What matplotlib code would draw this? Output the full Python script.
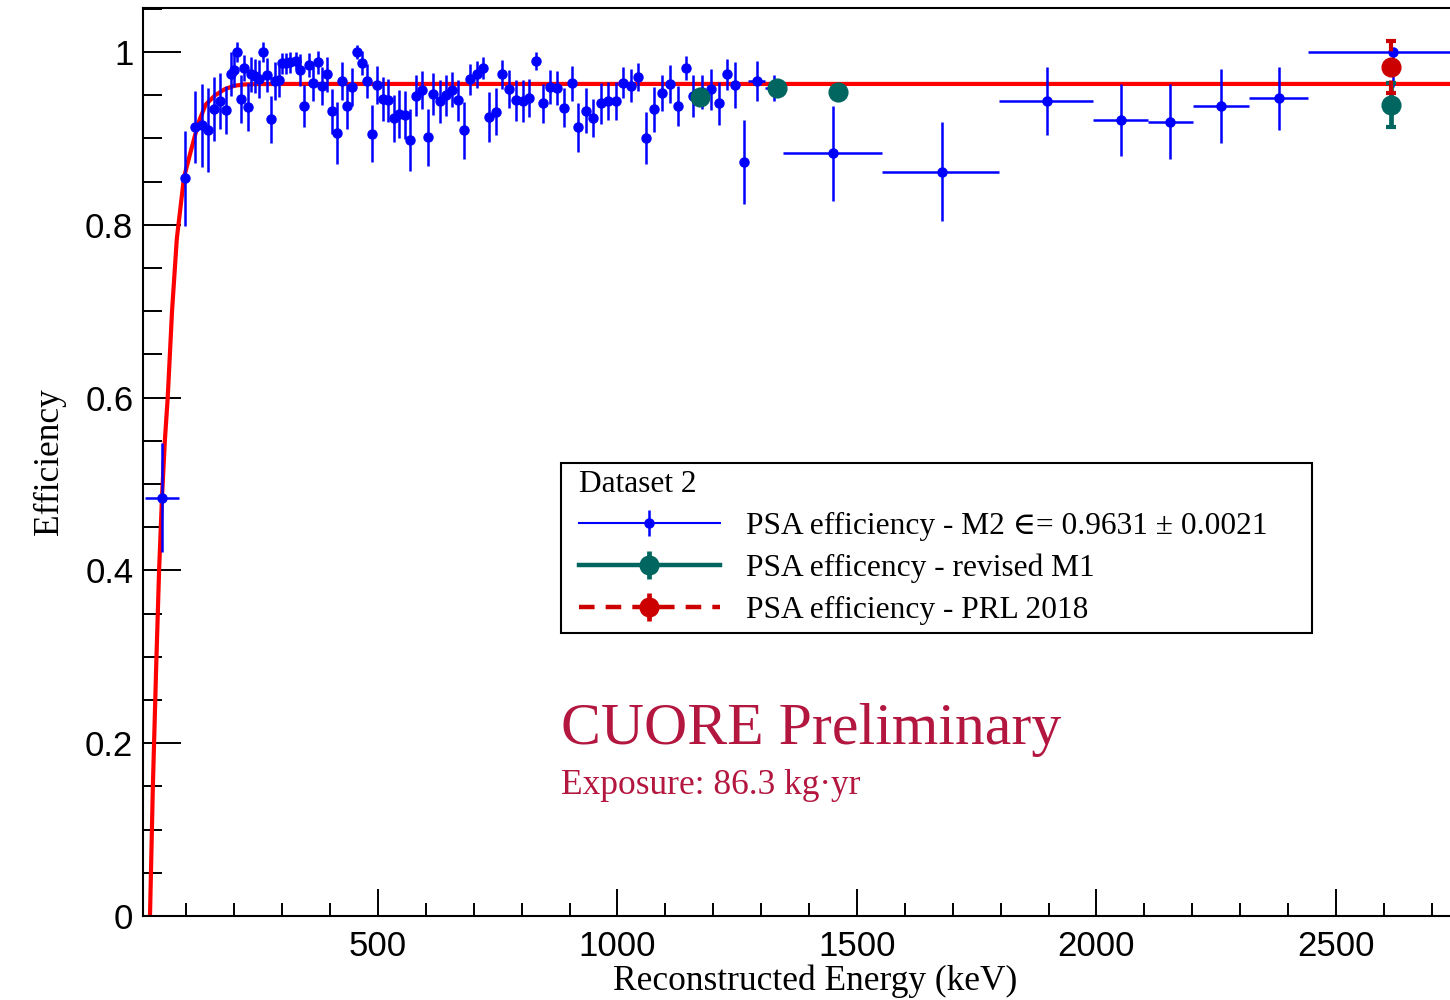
import matplotlib
matplotlib.use('Agg')
import matplotlib.pyplot as plt
import numpy as np
from matplotlib.lines import Line2D
from matplotlib.patches import Rectangle
from matplotlib.legend_handler import HandlerTuple
from matplotlib.ticker import MultipleLocator, FuncFormatter

plt.rcParams['font.family'] = 'Liberation Sans'
SERIF = ['Liberation Serif', 'DejaVu Serif']

BLUE = '#0000ff'
TEAL = '#00665f'
DARKRED = '#cc0000'
CUORE_RED = '#b3163f'

# PSA efficiency M2, fine binning (keV, efficiency, error)
m2_energy = [98.1, 117.3, 131.9, 144.5, 156.6, 169.7, 182.3, 192.1, 199.8, 206.1,
             213.6, 220.9, 228.0, 234.9, 243.2, 250.9, 259.5, 267.6, 276.2, 284.1,
             292.9, 299.6, 307.9, 317.3, 328.8, 337.2, 345.9, 355.3, 364.9, 374.3,
             383.5, 393.5, 403.5, 413.8, 424.2, 434.7, 445.1, 455.5, 466.0, 477.0,
             487.9, 498.5, 509.4, 521.5, 533.0, 544.3, 556.4, 567.8, 579.3, 591.2,
             603.8, 615.4, 628.4, 641.5, 653.9, 666.6, 679.5, 692.1, 706.1, 719.8,
             732.4, 746.3, 759.9, 773.9, 787.7, 801.7, 815.9, 830.9, 845.1, 859.1,
             874.1, 888.7, 904.4, 918.2, 933.8, 949.5, 964.9, 980.6, 996.2, 1011.9,
             1027.8, 1043.4, 1059.9, 1075.8, 1092.3, 1109.0, 1125.3, 1142.4, 1157.6, 1176.4,
             1194.2, 1211.5, 1229.0, 1245.7, 1263.7]
m2_eff = [0.854, 0.9135, 0.9155, 0.9097, 0.934, 0.9433, 0.9329, 0.9745, 0.9795, 1.0,
          0.946, 0.9818, 0.9367, 0.9742, 0.9722, 0.9688, 1.0, 0.9737, 0.9222, 0.967,
          0.9682, 0.9869, 0.9869, 0.9881, 0.990, 0.9792, 0.9377, 0.985, 0.9638, 0.9881,
          0.9612, 0.9743, 0.9317, 0.9063, 0.9667, 0.9372, 0.9591, 1.0, 0.9878, 0.9667,
          0.9054, 0.9618, 0.9456, 0.9441, 0.9233, 0.928, 0.9271, 0.8985, 0.9497, 0.9566,
          0.9016, 0.9514, 0.9429, 0.9499, 0.9565, 0.9441, 0.9097, 0.9685, 0.9742, 0.9815,
          0.9251, 0.9309, 0.9742, 0.9568, 0.944, 0.9436, 0.9471, 0.9896, 0.9406, 0.9595,
          0.9586, 0.9358, 0.9638, 0.9129, 0.9321, 0.9234, 0.9406, 0.9435, 0.9435, 0.9647,
          0.9612, 0.9714, 0.9001, 0.9338, 0.9522, 0.9627, 0.9375, 0.9811, 0.9494, 0.9537,
          0.9569, 0.9406, 0.9742, 0.9618, 0.8727]
m2_err = [0.055, 0.042, 0.048, 0.049, 0.037, 0.032, 0.028, 0.025, 0.02, 0.012,
          0.028, 0.015, 0.028, 0.02, 0.02, 0.022, 0.012, 0.02, 0.027, 0.022,
          0.02, 0.012, 0.012, 0.012, 0.01, 0.018, 0.024, 0.014, 0.02, 0.013,
          0.022, 0.02, 0.026, 0.036, 0.022, 0.026, 0.022, 0.008, 0.014, 0.02,
          0.033, 0.022, 0.025, 0.025, 0.027, 0.028, 0.028, 0.036, 0.024, 0.022,
          0.033, 0.024, 0.025, 0.024, 0.02, 0.024, 0.033, 0.018, 0.016, 0.013,
          0.029, 0.027, 0.017, 0.022, 0.024, 0.024, 0.022, 0.01, 0.023, 0.02,
          0.02, 0.023, 0.02, 0.028, 0.026, 0.022, 0.024, 0.022, 0.022, 0.018,
          0.019, 0.016, 0.030, 0.026, 0.021, 0.022, 0.023, 0.014, 0.024, 0.02,
          0.024, 0.025, 0.018, 0.027, 0.049]
m2_bin_half = 4.0

# PSA efficiency M2, wide bins (centre, bin edges, asymmetric errors)
m2w_energy = [49.0, 1290.6, 1326.7, 1449.3, 1676.8, 1896.7, 2051.1, 2154.1, 2259.9, 2380.4, 2619.6]
m2w_low = [13.6, 1272.4, 1307.9, 1345.6, 1553.0, 1796.5, 1993.0, 2107.0, 2201.0, 2319.0, 2441.0]
m2w_high = [84.6, 1307.9, 1346.1, 1553.0, 1796.5, 1993.0, 2107.0, 2201.0, 2319.0, 2441.0, 2798.0]
m2w_eff = [0.484, 0.9667, 0.958, 0.8828, 0.8615, 0.9433, 0.9213, 0.9193, 0.9375, 0.9464, 1.0]
m2w_err_dn = [0.063, 0.023, 0.015, 0.055, 0.0575, 0.039, 0.0417, 0.0434, 0.0426, 0.0367, 0.04]
m2w_err_up = [0.063, 0.023, 0.015, 0.055, 0.0575, 0.039, 0.0417, 0.0434, 0.0426, 0.0367, 0.0]

# revised M1 efficiency on gamma lines
m1_energy = [1173.2, 1332.5, 1460.8, 2614.5]
m1_eff = [0.9483, 0.958, 0.9533, 0.9387]
m1_err = [0.004, 0.004, 0.004, 0.0252]

# PRL 2018 value
prl_energy = [2614.5]
prl_eff = [0.983]
prl_err = [0.030]

# fitted M2 efficiency curve, plateau 0.9631
fit_energy = [24, 30, 37, 43, 49, 55, 61, 70, 80, 95, 110, 125, 140, 160, 180,
              200, 220, 250, 300, 2740]
fit_eff = [0.0, 0.15, 0.29, 0.40, 0.484, 0.55, 0.60, 0.70, 0.784, 0.855, 0.887,
           0.918, 0.939, 0.950, 0.957, 0.961, 0.9625, 0.963, 0.9631, 0.9631]

fig = plt.figure(figsize=(14.5, 10), dpi=100)
ax = fig.add_axes([143 / 1450, 84 / 1000, 1307 / 1450, 908 / 1000])

ax.plot(fit_energy, fit_eff, color='red', lw=3, zorder=2, solid_capstyle='butt')

ax.errorbar(m2_energy, m2_eff, yerr=m2_err, xerr=m2_bin_half, fmt='o', color=BLUE,
            ms=6.5, elinewidth=1.8, capsize=0, zorder=3)
m2w_xerr = [np.subtract(m2w_energy, m2w_low), np.subtract(m2w_high, m2w_energy)]
ax.errorbar(m2w_energy, m2w_eff, yerr=[m2w_err_dn, m2w_err_up], xerr=m2w_xerr,
            fmt='o', color=BLUE, ms=6.5, elinewidth=1.8, capsize=0, zorder=3)

ax.errorbar(m1_energy, m1_eff, yerr=m1_err, fmt='o', color=TEAL, ms=13.5,
            elinewidth=3.4, capsize=3.5, capthick=3, zorder=4)
prl = ax.errorbar(prl_energy, prl_eff, yerr=prl_err, fmt='o', color=DARKRED, ms=13.5,
                  elinewidth=3, capsize=3.5, capthick=3, zorder=5)
prl.lines[2][0].set_linestyle((0, (3, 2)))

ax.set_xlim(9.4, 2738)
ax.set_ylim(0, 1.051)
ax.xaxis.set_major_locator(MultipleLocator(500))
ax.xaxis.set_minor_locator(MultipleLocator(100))
ax.yaxis.set_major_locator(MultipleLocator(0.2))
ax.yaxis.set_minor_locator(MultipleLocator(0.05))
ax.yaxis.set_major_formatter(FuncFormatter(lambda v, _: f'{v:g}'))

ax.tick_params(axis='x', which='major', direction='in', length=19.5, width=1.4,
               labelsize=25, pad=10)
ax.tick_params(axis='x', which='minor', direction='in', length=9.5, width=1.4)
ax.tick_params(axis='y', which='major', direction='in', length=27.5, width=1.4,
               labelsize=25, pad=7)
ax.tick_params(axis='y', which='minor', direction='in', length=13.7, width=1.4)
for side in ['left', 'bottom', 'top']:
    ax.spines[side].set_linewidth(1.5)
ax.spines['right'].set_visible(False)

ax.set_xlabel('Reconstructed Energy (keV)', fontsize=25.5, family=SERIF, labelpad=1)
ax.xaxis.label.set_x(0.514)
ax.set_ylabel('Efficiency', fontsize=25.5, family=SERIF, labelpad=14)

# legend handles: line + vertical error bar + marker, drawn on top of each other
h_m2 = (Line2D([], [], color=BLUE, lw=1.5),
        Line2D([], [], color=BLUE, marker='|', ms=19, mew=1.8, ls='none'),
        Line2D([], [], color=BLUE, marker='o', ms=6.5, ls='none'))
h_m1 = (Line2D([], [], color=TEAL, lw=3.2),
        Line2D([], [], color=TEAL, marker='|', ms=20, mew=3.4, ls='none'),
        Line2D([], [], color=TEAL, marker='o', ms=13.5, ls='none'))
h_prl = (Line2D([], [], color=DARKRED, lw=3.2, ls=(0, (3.5, 2.5))),
         Line2D([], [], color=DARKRED, marker='|', ms=20, mew=3.4, ls='none'),
         Line2D([], [], color=DARKRED, marker='o', ms=13.5, ls='none'))

# legend box drawn separately so the text block can sit tight under its top edge
ax.add_patch(Rectangle((0.3198, 0.3117), 0.5746, 0.1872, transform=ax.transAxes,
                       facecolor='white', edgecolor='black', lw=1.5, zorder=6))
leg = ax.legend([h_m2, h_m1, h_prl],
                ['PSA efficiency - M2 \u2208= 0.9631 \u00b1 0.0021',
                 'PSA efficency - revised M1',
                 'PSA efficiency - PRL 2018'],
                handler_map={tuple: HandlerTuple(ndivide=1)},
                title='Dataset 2', alignment='left',
                prop={'family': SERIF, 'size': 22.6},
                title_fontproperties={'family': SERIF, 'size': 22.6},
                loc='upper left', bbox_to_anchor=(0.3198, 0.511),
                borderaxespad=0, borderpad=0.58,
                handlelength=4.48, handletextpad=0.85, labelspacing=0.41,
                frameon=False)
leg.set_zorder(7)

ax.text(0.3198, 0.205, 'CUORE Preliminary', transform=ax.transAxes, va='center',
        ha='left', fontsize=43, color=CUORE_RED, family=SERIF)
ax.text(0.3198, 0.144, 'Exposure: 86.3 kg\u00b7yr', transform=ax.transAxes, va='center',
        ha='left', fontsize=25.5, color=CUORE_RED, family=SERIF)

fig.savefig('out.png', dpi=100)
